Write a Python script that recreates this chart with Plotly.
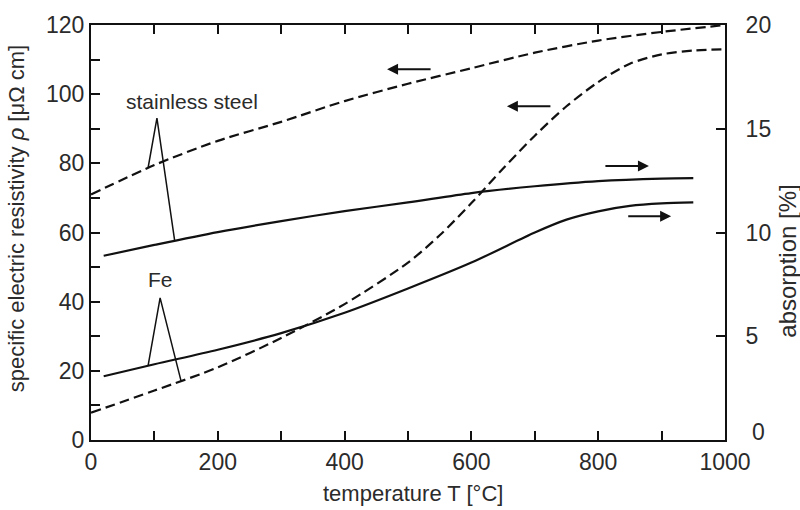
import numpy as np
import plotly.graph_objects as go

# Specific electric resistivity (left axis, µΩ cm) versus temperature
t_rho_ss = [0, 100, 200, 300, 400, 500, 600, 700, 800, 900, 1000]
rho_ss = [71, 79.5, 86.5, 92, 98, 103, 107.5, 112, 115.5, 118, 120]

t_rho_fe = [0, 100, 200, 300, 400, 500, 550, 600, 650, 700, 750, 800, 850, 900, 950, 1000]
rho_fe = [7.9, 14.3, 21, 29.5, 39.3, 51.3, 59.2, 68.5, 78.5, 88, 96.5, 103.5, 108.8, 111.5, 112.6, 113]

# Absorption (right axis, %) versus temperature
t_abs_ss = [20, 100, 200, 300, 400, 500, 600, 700, 800, 900, 950]
abs_ss = [8.88, 9.4, 10.02, 10.55, 11.03, 11.45, 11.9, 12.23, 12.48, 12.6, 12.62]

t_abs_fe = [20, 100, 200, 300, 400, 500, 600, 700, 750, 800, 850, 900, 950]
abs_fe = [3.07, 3.65, 4.35, 5.15, 6.13, 7.3, 8.55, 10.0, 10.62, 11.02, 11.28, 11.4, 11.45]

x_ticks = [0, 200, 400, 600, 800, 1000]
y_left_ticks = [0, 20, 40, 60, 80, 100, 120]
y_right_ticks = [0, 5, 10, 15, 20]

FONT = "Liberation Sans, Arial, Helvetica, sans-serif"
INK = "#111111"
TXT = "#2b2b2b"
RATIO = 120 / 20  # left-axis units per right-axis unit

fig = go.Figure()

dash = "10px,5px"
fig.add_trace(go.Scatter(x=t_rho_ss, y=rho_ss, mode="lines", yaxis="y",
                         line=dict(color=INK, width=2.2, dash=dash, shape="spline", smoothing=0.8),
                         showlegend=False, hoverinfo="skip"))
fig.add_trace(go.Scatter(x=t_rho_fe, y=rho_fe, mode="lines", yaxis="y",
                         line=dict(color=INK, width=2.2, dash=dash, shape="spline", smoothing=0.8),
                         showlegend=False, hoverinfo="skip"))
fig.add_trace(go.Scatter(x=t_abs_ss, y=abs_ss, mode="lines", yaxis="y2",
                         line=dict(color=INK, width=2.2, shape="spline", smoothing=0.8),
                         showlegend=False, hoverinfo="skip"))
fig.add_trace(go.Scatter(x=t_abs_fe, y=abs_fe, mode="lines", yaxis="y2",
                         line=dict(color=INK, width=2.2, shape="spline", smoothing=0.8),
                         showlegend=False, hoverinfo="skip"))


# Leader lines from each material label to its two curves
def leader(apex, t_left, y_left, t_right, y_right):
    fig.add_trace(go.Scatter(x=[t_left, apex[0], t_right], y=[y_left, apex[1], y_right],
                             mode="lines", yaxis="y",
                             line=dict(color=INK, width=1.5),
                             showlegend=False, hoverinfo="skip"))


ss_apex = (104, 93.1)
leader(ss_apex, 90, np.interp(90, t_rho_ss, rho_ss),
       132, np.interp(132, t_abs_ss, abs_ss) * RATIO)
fe_apex = (109, 41.1)
leader(fe_apex, 90, np.interp(90, t_abs_fe, abs_fe) * RATIO,
       142, np.interp(142, t_rho_fe, rho_fe))

title_font = dict(family=FONT, size=22, color=TXT)
tick_font = dict(family=FONT, size=23, color=TXT)
annotations = [
    dict(text="stainless steel", x=159, y=98, xref="x", yref="y", showarrow=False,
         xanchor="center", yanchor="middle", font=dict(family=FONT, size=21, color=TXT)),
    dict(text="Fe", x=109, y=46.5, xref="x", yref="y", showarrow=False,
         xanchor="center", yanchor="middle", font=dict(family=FONT, size=21, color=TXT)),
    # axis titles
    dict(text="temperature T [°C]", x=0.508, y=-0.128, xref="paper", yref="paper",
         xanchor="center", yanchor="middle", showarrow=False, font=title_font),
    dict(text="specific electric resistivity <i>ρ</i> [μΩ cm]", x=-0.117, y=0.534,
         xref="paper", yref="paper", textangle=-90, xanchor="center", yanchor="middle",
         showarrow=False, font=title_font),
    dict(text="absorption [%]", x=1.098, y=0.43, xref="paper", yref="paper",
         textangle=-90, xanchor="center", yanchor="middle", showarrow=False,
         font=dict(family=FONT, size=24, color=TXT)),
    # zero label of the right axis, lifted clear of the "1000" below it
    dict(text=str(y_right_ticks[0]), x=1.0, y=y_right_ticks[0], xref="paper", yref="y2",
         xanchor="left", yanchor="middle", xshift=25, yshift=8, showarrow=False,
         font=tick_font),
]

# Arrows pointing to the axis each curve belongs to
arrows = [
    (467, 538, 107.2, "x", "y"),
    (656, 727, 96.5, "x", "y"),
    (880, 809, 13.2, "x", "y2"),
    (915, 845, 10.78, "x", "y2"),
]
for head, tail, yv, xr, yr in arrows:
    annotations.append(dict(x=head, y=yv, ax=tail, ay=yv, xref=xr, yref=yr,
                            axref=xr, ayref=yr, text="", showarrow=True,
                            arrowhead=2, arrowsize=1.1, arrowwidth=2, arrowcolor=INK))

fig.update_layout(
    width=800, height=510,
    margin=dict(l=91, r=75, t=17, b=70),
    paper_bgcolor="white", plot_bgcolor="white",
    annotations=annotations,
    xaxis=dict(range=[0, 1000], tickvals=x_ticks, ticks="inside", ticklen=9, tickwidth=1.5,
               tickcolor=INK, showline=True, linecolor=INK, linewidth=2, mirror="ticks",
               showgrid=False, zeroline=False, tickfont=tick_font,
               minor=dict(dtick=100, ticks="inside", ticklen=9, tickwidth=1.5, tickcolor=INK)),
    yaxis=dict(range=[0, 120], tickvals=y_left_ticks, ticks="inside", ticklen=9, tickwidth=1.5,
               tickcolor=INK, showline=True, linecolor=INK, linewidth=2,
               showgrid=False, zeroline=False, tickfont=tick_font,
               minor=dict(dtick=10, ticks="inside", ticklen=9, tickwidth=1.5, tickcolor=INK)),
    yaxis2=dict(range=[0, 20], tickvals=y_right_ticks,
                ticktext=[""] + [str(v) for v in y_right_ticks[1:]],
                overlaying="y", side="right",
                ticks="inside", ticklen=9, tickwidth=1.5, tickcolor=INK,
                showline=True, linecolor=INK, linewidth=2, ticklabelstandoff=14,
                showgrid=False, zeroline=False, tickfont=tick_font),
)

fig.write_html("out.html")
